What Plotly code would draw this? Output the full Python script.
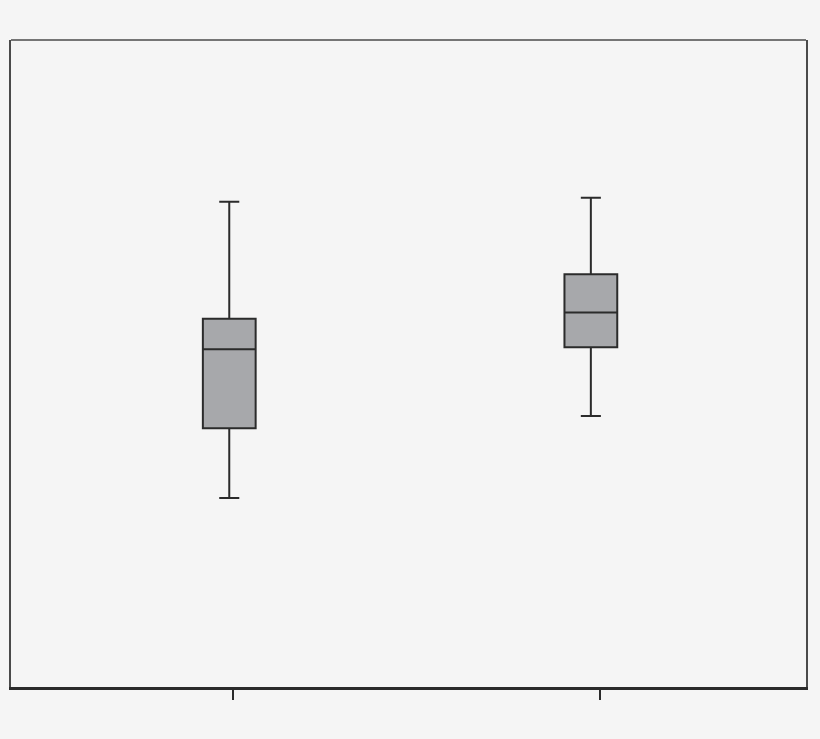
import plotly.graph_objects as go

# box statistics (arbitrary 0-100 scale)
groups = [0, 1]
tick_pos = [0.01, 1.024]
lower = [29.2, 41.9]
q1 = [40.0, 52.5]
median = [52.2, 57.9]
q3 = [56.9, 63.8]
upper = [75.0, 75.6]

fig = go.Figure()
for i in range(len(groups)):
    fig.add_trace(go.Box(
        x=[groups[i]],
        q1=[q1[i]], median=[median[i]], q3=[q3[i]],
        lowerfence=[lower[i]], upperfence=[upper[i]],
        width=0.146,
        whiskerwidth=0.38,
        fillcolor="#a7a8ab",
        line=dict(color="#2b2b2b", width=2),
        boxpoints=False,
        showlegend=False,
        hoverinfo="skip",
    ))

fig.update_layout(
    width=820, height=739,
    margin=dict(l=11, r=14, t=40, b=52),
    paper_bgcolor="#f5f5f5",
    plot_bgcolor="#f5f5f5",
    xaxis=dict(range=[-0.6036, 1.595], showgrid=False, zeroline=False,
               showline=True, linecolor="#2b2b2b", linewidth=3,
               ticks="outside", ticklen=10, tickwidth=2, tickcolor="#2b2b2b",
               tickvals=tick_pos, showticklabels=False),
    yaxis=dict(range=[0, 100], showgrid=False, zeroline=False,
               showline=True, mirror=True, linecolor="#4a4a4a", linewidth=1.5,
               ticks="", showticklabels=False),
    shapes=[dict(type="line", xref="paper", yref="paper", x0=0, x1=1, y0=1, y1=1,
                 line=dict(color="#4a4a4a", width=1.5))],
)

# page margin off so the figure sits at the window corner
fig.write_html("out.html", config={"displayModeBar": False},
               post_script="document.body.style.margin='0';document.body.style.background='#f5f5f5';")
